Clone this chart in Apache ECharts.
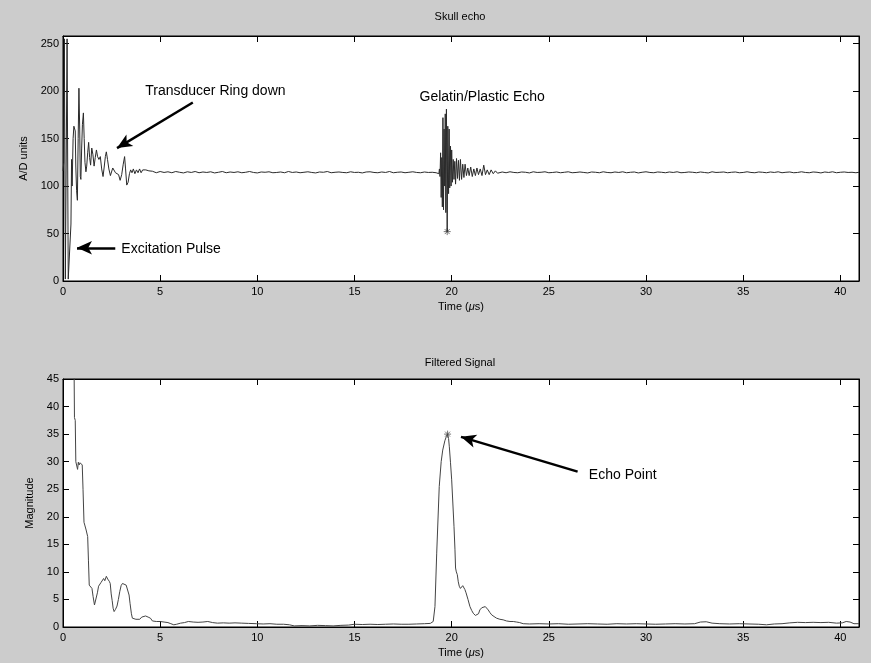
<!DOCTYPE html>
<html><head><meta charset="utf-8">
<script src="https://cdn.jsdelivr.net/npm/echarts@6/dist/echarts.min.js"></script>
<style>html,body{margin:0;padding:0;background:#cccccc}#c{width:871px;height:663px}</style>
</head><body><div id="c"></div><script>
// ---------------- DATA ----------------
const xMax = 40.96;
const xTicksStep = 5;
const topYMax = 258, topYStep = 50;
const botYMax = 45, botYStep = 5;

// Raw A/D signal: excitation pulse + transducer ring down (time us, value)
const ringPairs = [
 [0.00,116],[0.04,125],[0.07,255],[0.11,255],[0.12,2],[0.19,2],[0.21,255],[0.26,255],[0.27,2],[0.37,2],
 [0.41,60],[0.44,128],[0.47,100],[0.52,150],[0.56,163],[0.60,165],[0.63,158],[0.66,120],[0.70,95],[0.74,85],
 [0.78,150],[0.82,203],[0.86,160],[0.89,110],[0.92,107],[0.96,140],[1.00,165],[1.05,177],[1.09,150],[1.13,125],
 [1.18,115],[1.22,121],[1.27,135],[1.32,146],[1.37,130],[1.42,122],[1.48,140],[1.54,133],[1.60,121],[1.66,130],
 [1.72,138],[1.78,131],[1.85,128],[1.92,131],[1.99,118],[2.06,110],[2.12,120],[2.18,131],[2.23,136],[2.29,128],
 [2.36,118],[2.44,111],[2.50,112],[2.56,119],[2.62,117],[2.70,114],[2.78,116],[2.86,112],[2.94,106],[3.02,112],
 [3.10,123],[3.17,131],[3.22,118],[3.28,101],[3.35,104],[3.42,113],[3.48,117],[3.55,114],[3.62,118],[3.70,113],
 [3.78,117],[3.86,114],[3.94,118],[4.02,114],[4.10,117],[4.18,115],[4.26,117],[4.34,115],[4.42,116],[4.50,114.5]
];
// Baseline samples between ring down and echo (start 4.6 us, every 0.2 us)
const baseAStart = 4.6, baseStep = 0.2;
const baseAValues = [
 115.6,114,115.3,114.3,115,114,115.3,114.5,113.8,115,
 114.3,115.3,114,114.8,114.3,115,113.8,114.5,115.3,114,
 114.8,114.3,115,114,114.5,115.3,114.3,113.8,114.8,114.5,
 115,114,114.3,114.8,114,115.3,114.3,114.8,114,114.5,
 115,114.3,113.8,114.8,114.5,115.3,114,114.5,114.8,114.3,
 114,115,114.3,114.5,113.8,114.8,115,114.3,114,114.8,
 114.3,115.3,114,114.5,114.8,114,114.5,115,114.3,114,
 114.8,114.3,114.5,114
];
// Gelatin / plastic echo (time us, value)
const echoPairs = [
 [19.30,115],[19.34,113],[19.37,118],[19.40,110],[19.43,135],[19.46,88],[19.49,130],[19.52,78],[19.55,172],[19.58,75],
 [19.61,160],[19.64,100],[19.67,176],[19.70,72],[19.73,181],[19.77,52],[19.80,163],[19.84,92],[19.87,160],[19.90,98],
 [19.94,142],[19.97,100],[20.00,138],[20.04,104],[20.08,128],[20.12,107],[20.16,126],[20.20,102],[20.25,129],[20.30,108],
 [20.35,127],[20.40,106],[20.45,128],[20.51,107],[20.57,123],[20.63,109],[20.69,123],[20.76,111],[20.83,119],[20.90,111],
 [20.98,120],[21.06,110],[21.14,118],[21.22,111],[21.30,119],[21.38,112],[21.47,118],[21.56,111],[21.65,122],[21.74,112],
 [21.83,117],[21.93,112],[22.03,117],[22.14,113],[22.25,116],[22.36,113.5],[22.46,115.5]
];
// Baseline after the echo (start 22.6 us, every 0.2 us)
const baseBStart = 22.6;
const baseBValues = [
 114.8,114,115,114.3,114,114.8,114.5,113.8,115,114.3,
 114.5,115,114,114.3,114.8,114,114.5,115,114,114.3,
 114.8,114.3,113.8,114.8,114.5,114,115,114.3,114,114.8,
 114.3,115,114,114.5,114.8,113.8,114.5,115,114.3,114,
 114.8,114.5,114,114.8,114.3,115,114,114.3,114.8,114.5,
 114,114.8,114.3,113.8,115,114.3,114.5,114.8,114,114.5,
 114.8,114,114.3,115,114.3,114,114.8,114.5,114,114.8,
 114.3,115,114,114.5,114.8,114,114.3,115,114.3,114,
 114.8,114.5,113.8,114.8,114.3,115,114,114.5,114.8,114.3,
 114.5,114
];
const rawEndPoint = [40.96,114.5];
const rawStar = [19.77,52];

// Filtered signal magnitude (time us, value)
const filtPairs = [
 [0.00,120],[0.50,62],[0.57,47],[0.59,38],[0.63,37.5],[0.66,30],[0.70,29.9],[0.75,28.6],[0.79,29.9],[0.83,29.4],
 [0.88,29.8],[0.93,29.5],[0.99,29.4],[1.03,25],[1.08,19],[1.12,18.5],[1.19,17.6],[1.27,16.4],[1.31,12],[1.35,7.6],
 [1.42,7.3],[1.49,7.0],[1.55,5.5],[1.62,4.0],[1.68,3.9],[1.72,4.3],[1.77,6.2],[1.83,7.4],[1.90,7.2],[1.96,8.1],
 [2.02,7.9],[2.09,8.8],[2.15,8.4],[2.23,9.2],[2.30,8.7],[2.38,8.3],[2.43,7.9],[2.48,6.0],[2.53,4.8],[2.58,3.4],
 [2.63,2.8],[2.70,3.2],[2.78,3.8],[2.85,5.0],[2.92,6.4],[2.99,7.5],[3.06,7.9],[3.15,7.8],[3.25,7.6],[3.33,7.3],
 [3.40,5.8],[3.45,4.3],[3.52,2.4],[3.57,1.6],[3.65,1.5],[3.75,1.4],[3.85,1.5],[3.95,1.4],[4.05,1.8],[4.15,2.0],
 [4.25,2.0],[4.38,1.8],[4.50,1.6],[4.60,1.1],[4.80,1.0],[5.00,1.0],[5.20,0.9],[5.40,0.8],[5.55,0.6],[5.70,0.4],
 [5.85,0.5],[6.05,0.7],[6.25,0.8],[6.45,1.0],[6.70,0.9],[6.95,0.85],[7.20,0.9],[7.45,1.0],[7.70,0.8],[7.95,0.7],
 [8.25,0.75],[8.55,0.7],[8.85,0.75],[9.20,0.7],[9.55,0.65],[9.95,0.6],[10.30,0.55],[10.65,0.6],[11.00,0.5],[11.35,0.5],
 [11.65,0.4],[11.90,0.2],[12.30,0.25],[12.70,0.2],[13.10,0.3],[13.50,0.25],[13.90,0.2],[14.30,0.3],[14.70,0.35],[15.00,0.5],
 [15.40,0.45],[15.80,0.5],[16.20,0.45],[16.60,0.5],[17.00,0.55],[17.40,0.5],[17.80,0.5],[18.20,0.55],[18.60,0.6],[18.90,0.65],
 [19.05,1.0],[19.14,3.7],[19.23,13.4],[19.36,25.5],[19.46,30],[19.54,32.1],[19.65,33.8],[19.73,34.6],[19.79,35.0],[19.84,34.2],
 [19.88,32.7],[19.94,29.8],[20.00,26.7],[20.06,22.5],[20.12,18.2],[20.17,14],[20.20,10.7],[20.24,10.0],[20.29,9.5],[20.34,8.2],
 [20.39,7.4],[20.45,7.0],[20.51,7.0],[20.57,7.5],[20.63,7.4],[20.68,6.8],[20.74,6.2],[20.84,5.0],[20.94,3.7],[21.03,3.0],
 [21.11,2.5],[21.22,2.1],[21.32,1.9],[21.38,2.4],[21.45,3.1],[21.55,3.5],[21.65,3.8],[21.73,3.7],[21.80,3.4],[21.88,3.1],
 [21.97,2.6],[22.06,2.2],[22.18,1.9],[22.31,1.6],[22.48,1.4],[22.65,1.3],[22.82,1.1],[23.00,1.0],[23.17,1.0],[23.34,0.9],
 [23.50,0.8],[23.68,0.6],[24.0,0.55],[24.5,0.6],[25.0,0.55],[25.5,0.6],[26.0,0.5],[26.5,0.55],[27.0,0.6],[27.5,0.55],
 [28.0,0.5],[28.5,0.6],[29.0,0.55],[29.5,0.6],[30.0,0.55],[30.5,0.5],[31.0,0.55],[31.5,0.6],[32.0,0.55],[32.5,0.6],
 [32.8,0.9],[33.1,0.95],[33.4,0.7],[33.8,0.6],[34.3,0.55],[34.8,0.6],[35.3,0.55],[35.8,0.5],[36.2,0.4],[36.6,0.55],
 [37.0,0.6],[37.4,0.75],[37.8,0.85],[38.2,0.8],[38.6,0.85],[39.0,0.8],[39.4,0.85],[39.8,0.7],[40.1,0.75],[40.3,1.0],
 [40.5,0.9],[40.7,0.6],[40.96,0.6]
];
const filtStar = [19.79,35];

// Annotations (data coordinates)
const topTexts = [
 {text:'Transducer Ring down', at:[4.23,200], align:'left'},
 {text:'Excitation Pulse', at:[3.0,34], align:'left'},
 {text:'Gelatin/Plastic Echo', at:[21.57,194], align:'center'}
];
const topArrows = [
 {from:[6.68,188], to:[2.78,140]},
 {from:[2.69,35], to:[0.72,35]}
];
const botTexts = [{text:'Echo Point', at:[27.06,27.6], align:'left'}];
const botArrows = [{from:[26.48,28.2], to:[20.48,34.5]}];

// ---------------- BUILD ----------------
const r2 = v => Math.round(v*100)/100;
const rawData = []
 .concat(ringPairs)
 .concat(baseAValues.map((v,i)=>[r2(baseAStart+i*baseStep), v]))
 .concat(echoPairs)
 .concat(baseBValues.map((v,i)=>[r2(baseBStart+i*baseStep), v]))
 .concat([rawEndPoint]);

const FONT = 'Arial, "Liberation Sans", Helvetica, sans-serif';
const starPath = 'path://M5 0L5 10M0 5L10 5M1.5 1.5L8.5 8.5M1.5 8.5L8.5 1.5';

function xAxes(gi){
  const common = {gridIndex:gi, type:'value', min:0, max:xMax, interval:xTicksStep,
    splitLine:{show:false},
    axisLine:{show:true, onZero:false, lineStyle:{color:'#000', width:1}},
    axisTick:{show:true, inside:true, length:6, lineStyle:{color:'#000'}}};
  return [
    Object.assign({}, common, {position:'bottom',
      axisLabel:{show:true, showMaxLabel:false, color:'#000', fontSize:11, fontFamily:FONT, margin:5},
      name:'Time ({i|μ}s)', nameLocation:'middle', nameGap:20,
      nameTextStyle:{color:'#000', fontSize:11, fontFamily:FONT, rich:{i:{fontStyle:'italic', fontSize:11, fontFamily:FONT, color:'#000'}}}}),
    Object.assign({}, common, {position:'top', axisLabel:{show:false}})
  ];
}
function yAxes(gi, max, step, name, gap){
  const common = {gridIndex:gi, type:'value', min:0, max:max, interval:step,
    splitLine:{show:false},
    axisLine:{show:true, onZero:false, lineStyle:{color:'#000', width:1}},
    axisTick:{show:true, inside:true, length:6, lineStyle:{color:'#000'}}};
  return [
    Object.assign({}, common, {position:'left',
      axisLabel:{show:true, showMaxLabel: (max % step === 0), color:'#000', fontSize:11, fontFamily:FONT, margin:4},
      name:name, nameLocation:'middle', nameGap:gap,
      nameTextStyle:{color:'#000', fontSize:11, fontFamily:FONT}}),
    Object.assign({}, common, {position:'right', axisLabel:{show:false}})
  ];
}
function textMarks(list){
  return {silent:true, symbol:'circle', symbolSize:0, animation:false,
    data:list.map(t=>({coord:t.at, symbolSize:0, itemStyle:{color:'transparent'},
      label:{show:true, formatter:t.text, position: t.align==='center'?'inside':'right', distance:0,
        color:'#000', fontSize:14, fontFamily:FONT}}))};
}
function arrowMarks(list){
  return {silent:true, animation:false, symbol:['none','arrow'], symbolSize:[10,15],
    label:{show:false}, lineStyle:{color:'#000', width:2.5, type:'solid'},
    data:list.map(a=>[{coord:a.from},{coord:a.to}])};
}

const chart = echarts.init(document.getElementById('c'), null, {renderer:'canvas'});
chart.setOption({
  backgroundColor:'#cccccc',
  animation:false,
  textStyle:{fontFamily:FONT},
  graphic:[
    {type:'text', x:460, y:17, style:{text:'Skull echo', textAlign:'center', textVerticalAlign:'middle', font:'11px '+FONT, fill:'#000'}},
    {type:'text', x:460, y:363, style:{text:'Filtered Signal', textAlign:'center', textVerticalAlign:'middle', font:'11px '+FONT, fill:'#000'}}
  ],
  grid:[
    {left:63, right:12, top:36, height:245, show:true, backgroundColor:'#ffffff', borderColor:'#000', borderWidth:1},
    {left:63, right:12, top:379, height:248, show:true, backgroundColor:'#ffffff', borderColor:'#000', borderWidth:1}
  ],
  xAxis: xAxes(0).concat(xAxes(1)),
  yAxis: yAxes(0, topYMax, topYStep, 'A/D units', 23).concat(yAxes(1, botYMax, botYStep, 'Magnitude', 21)),
  series:[
    {type:'line', xAxisIndex:0, yAxisIndex:0, data:rawData, showSymbol:false, symbol:'none',
     lineStyle:{color:'#2a2a2a', width:1}, clip:true, silent:true,
     markPoint:textMarks(topTexts), markLine:arrowMarks(topArrows)},
    {type:'scatter', xAxisIndex:0, yAxisIndex:0, data:[rawStar], symbol:starPath, symbolSize:7,
     itemStyle:{color:'transparent', borderColor:'#555', borderWidth:1}, silent:true},
    {type:'line', xAxisIndex:2, yAxisIndex:2, data:filtPairs, showSymbol:false, symbol:'none',
     lineStyle:{color:'#444', width:1}, clip:true, silent:true,
     markPoint:textMarks(botTexts), markLine:arrowMarks(botArrows)},
    {type:'scatter', xAxisIndex:2, yAxisIndex:2, data:[filtStar], symbol:starPath, symbolSize:7,
     itemStyle:{color:'transparent', borderColor:'#555', borderWidth:1}, silent:true}
  ]
});
</script></body></html>
